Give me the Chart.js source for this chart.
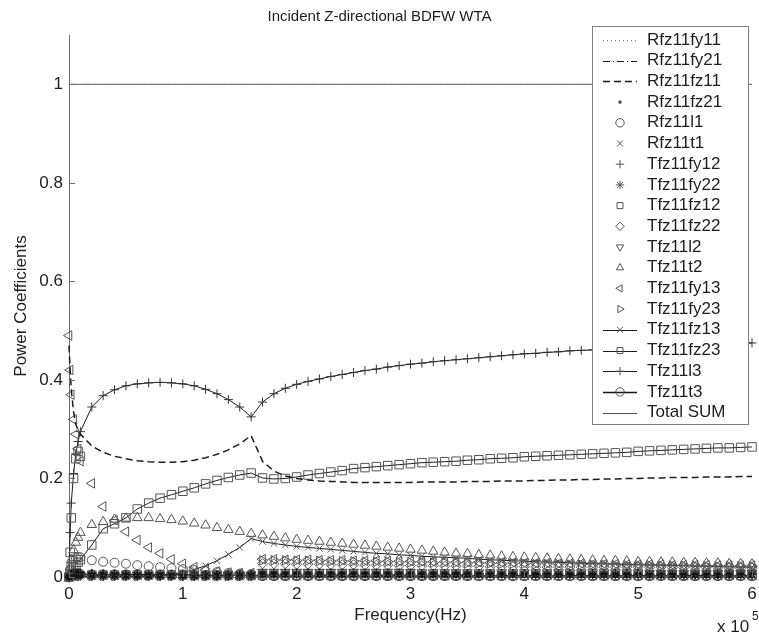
<!DOCTYPE html>
<html><head><meta charset="utf-8">
<script src="https://cdn.jsdelivr.net/npm/chart.js@4.4.1/dist/chart.umd.min.js"></script>
<style>html,body{margin:0;padding:0;background:#fff;overflow:hidden}</style>
</head><body>
<canvas id="c" width="759" height="637"></canvas>
<script>
const TITLE = 'Incident Z-directional BDFW WTA';
const X_LABEL = 'Frequency(Hz)';
const Y_LABEL = 'Power Coefficients';
const X_TICKS = [0,100000,200000,300000,400000,500000,600000];
const Y_TICKS = [0,0.2,0.4,0.6,0.8,1];

const FREQ = [0,1000,2000,4000,6000,8000,10000,
20000,30000,40000,50000,60000,70000,80000,90000,100000,
110000,120000,130000,140000,150000,160000,
170000,180000,190000,200000,
210000,220000,230000,240000,250000,260000,270000,280000,290000,300000,
310000,320000,330000,340000,350000,360000,370000,380000,390000,400000,
410000,420000,430000,440000,450000,460000,470000,480000,490000,500000,
510000,520000,530000,540000,550000,560000,570000,580000,590000,600000];

const RFZ11FY11 = [0.000,0.004,0.006,0.007,0.007,0.006,0.006,
0.005,0.004,0.004,0.003,0.003,0.003,0.003,0.002,0.002,
0.002,0.002,0.002,0.002,0.002,0.002,
0.003,0.003,0.003,0.003,
0.003,0.003,0.003,0.003,0.003,0.003,0.003,0.003,0.003,0.003,
0.003,0.003,0.003,0.003,0.003,0.002,0.002,0.002,0.002,0.002,
0.002,0.002,0.002,0.002,0.002,0.002,0.002,0.002,0.002,0.002,
0.002,0.002,0.002,0.002,0.002,0.002,0.002,0.002,0.002,0.002];

const RFZ11FY21 = [0.000,0.003,0.005,0.006,0.006,0.005,0.005,
0.004,0.003,0.003,0.003,0.002,0.002,0.002,0.002,0.002,
0.002,0.002,0.002,0.002,0.001,0.001,
0.004,0.004,0.004,0.004,
0.004,0.004,0.004,0.004,0.004,0.004,0.004,0.004,0.004,0.004,
0.004,0.004,0.004,0.004,0.004,0.003,0.003,0.003,0.003,0.003,
0.003,0.003,0.003,0.003,0.003,0.003,0.003,0.003,0.003,0.003,
0.003,0.003,0.003,0.003,0.003,0.003,0.003,0.003,0.003,0.003];

const RFZ11FZ11 = [0.470,0.420,0.380,0.335,0.310,0.298,0.290,
0.266,0.253,0.245,0.240,0.236,0.234,0.233,0.233,0.234,
0.237,0.242,0.249,0.258,0.270,0.287,
0.235,0.215,0.205,0.200,
0.197,0.195,0.194,0.193,0.192,0.192,0.192,0.192,0.192,0.192,
0.193,0.193,0.193,0.193,0.194,0.194,0.194,0.195,0.195,0.195,
0.196,0.196,0.197,0.197,0.198,0.198,0.199,0.199,0.200,0.200,
0.201,0.201,0.202,0.202,0.202,0.203,0.203,0.203,0.204,0.204];

const RFZ11FZ21 = [0.000,0.001,0.001,0.002,0.002,0.002,0.002,
0.002,0.002,0.002,0.001,0.001,0.001,0.001,0.001,0.001,
0.001,0.001,0.001,0.001,0.001,0.001,
0.002,0.002,0.002,0.002,
0.002,0.002,0.002,0.002,0.002,0.002,0.002,0.002,0.002,0.002,
0.002,0.002,0.002,0.002,0.002,0.002,0.002,0.002,0.002,0.002,
0.001,0.001,0.001,0.001,0.001,0.001,0.001,0.001,0.001,0.001,
0.001,0.001,0.001,0.001,0.001,0.001,0.001,0.001,0.001,0.001];

const RFZ11L1 = [0.000,0.015,0.025,0.035,0.039,0.040,0.040,
0.034,0.031,0.029,0.027,0.024,0.022,0.020,0.018,0.016,
0.014,0.012,0.010,0.008,0.007,0.006,
0.005,0.005,0.004,0.004,
0.004,0.004,0.004,0.004,0.004,0.004,0.004,0.004,0.004,0.004,
0.004,0.004,0.004,0.004,0.004,0.003,0.003,0.003,0.003,0.003,
0.003,0.003,0.003,0.003,0.003,0.003,0.003,0.003,0.003,0.003,
0.003,0.003,0.003,0.003,0.003,0.003,0.003,0.003,0.003,0.003];

const RFZ11T1 = [0.000,0.002,0.003,0.004,0.005,0.005,0.005,
0.004,0.004,0.004,0.003,0.003,0.003,0.003,0.003,0.003,
0.003,0.003,0.003,0.003,0.003,0.003,
0.006,0.006,0.006,0.006,
0.006,0.006,0.006,0.006,0.006,0.006,0.006,0.006,0.006,0.006,
0.005,0.005,0.005,0.005,0.005,0.005,0.005,0.005,0.005,0.005,
0.005,0.005,0.005,0.005,0.005,0.005,0.005,0.005,0.005,0.005,
0.004,0.004,0.004,0.004,0.004,0.004,0.004,0.004,0.004,0.004];

const TFZ11FY12 = [0.000,0.004,0.006,0.008,0.008,0.008,0.008,
0.007,0.006,0.006,0.005,0.005,0.005,0.004,0.004,0.004,
0.004,0.004,0.004,0.004,0.004,0.004,
0.008,0.008,0.008,0.008,
0.008,0.008,0.008,0.008,0.008,0.008,0.008,0.008,0.008,0.008,
0.007,0.007,0.007,0.007,0.007,0.007,0.007,0.007,0.007,0.007,
0.007,0.007,0.007,0.007,0.007,0.007,0.007,0.007,0.007,0.007,
0.006,0.006,0.006,0.006,0.006,0.006,0.006,0.006,0.006,0.006];

const TFZ11FY22 = [0.000,0.003,0.004,0.005,0.005,0.005,0.005,
0.004,0.004,0.004,0.004,0.004,0.004,0.004,0.004,0.004,
0.003,0.003,0.003,0.003,0.003,0.003,
0.006,0.006,0.006,0.006,
0.006,0.006,0.006,0.006,0.006,0.006,0.006,0.006,0.006,0.006,
0.006,0.006,0.006,0.006,0.006,0.006,0.006,0.006,0.006,0.006,
0.005,0.005,0.005,0.005,0.005,0.005,0.005,0.005,0.005,0.005,
0.005,0.005,0.005,0.005,0.005,0.005,0.005,0.005,0.005,0.005];

const TFZ11FZ12 = [0.000,0.050,0.120,0.200,0.240,0.255,0.245,
0.004,0.004,0.004,0.004,0.004,0.004,0.004,0.004,0.004,
0.003,0.003,0.003,0.003,0.003,0.003,
0.003,0.003,0.003,0.003,
0.003,0.003,0.003,0.003,0.003,0.003,0.003,0.003,0.003,0.003,
0.003,0.003,0.003,0.003,0.003,0.003,0.003,0.003,0.003,0.003,
0.003,0.003,0.003,0.003,0.003,0.003,0.003,0.003,0.003,0.003,
0.003,0.003,0.003,0.003,0.003,0.003,0.003,0.003,0.003,0.003];

const TFZ11FZ22 = [0.000,0.002,0.003,0.004,0.004,0.004,0.004,
0.004,0.004,0.004,0.004,0.004,0.004,0.004,0.004,0.004,
0.004,0.004,0.004,0.004,0.004,0.004,
0.027,0.027,0.027,0.026,
0.026,0.026,0.025,0.025,0.025,0.024,0.024,0.024,0.023,0.023,
0.023,0.023,0.022,0.022,0.022,0.022,0.021,0.021,0.021,0.021,
0.020,0.020,0.020,0.020,0.020,0.020,0.020,0.020,0.020,0.020,
0.020,0.020,0.019,0.019,0.019,0.019,0.019,0.018,0.018,0.018];

const TFZ11L2 = [0.000,0.002,0.003,0.004,0.004,0.004,0.004,
0.003,0.003,0.003,0.003,0.003,0.003,0.003,0.003,0.003,
0.003,0.003,0.003,0.003,0.003,0.003,
0.010,0.010,0.010,0.010,
0.010,0.010,0.010,0.010,0.010,0.010,0.010,0.010,0.010,0.010,
0.009,0.009,0.009,0.009,0.009,0.009,0.009,0.009,0.009,0.009,
0.009,0.009,0.009,0.009,0.009,0.009,0.009,0.009,0.009,0.009,
0.008,0.008,0.008,0.008,0.008,0.008,0.008,0.008,0.008,0.008];

const TFZ11T2 = [0.000,0.020,0.035,0.055,0.070,0.080,0.090,
0.106,0.112,0.117,0.119,0.120,0.120,0.118,0.116,0.113,
0.109,0.105,0.100,0.096,0.092,0.088,
0.085,0.082,0.079,0.076,
0.074,0.072,0.070,0.068,0.066,0.064,0.062,0.060,0.058,0.056,
0.054,0.052,0.050,0.048,0.047,0.045,0.044,0.042,0.041,0.040,
0.039,0.038,0.037,0.036,0.035,0.034,0.033,0.033,0.032,0.031,
0.031,0.030,0.030,0.029,0.029,0.028,0.028,0.027,0.027,0.026];

const TFZ11FY13 = [0.490,0.420,0.370,0.320,0.290,0.260,0.235,
0.190,0.143,0.115,0.092,0.075,0.060,0.048,0.036,0.027,
0.020,0.015,0.011,0.009,0.008,0.008,
0.036,0.036,0.035,0.035,
0.035,0.034,0.034,0.034,0.033,0.033,0.033,0.032,0.032,0.032,
0.031,0.031,0.031,0.030,0.030,0.030,0.029,0.029,0.029,0.028,
0.028,0.028,0.027,0.027,0.027,0.026,0.026,0.026,0.025,0.025,
0.025,0.025,0.024,0.024,0.024,0.024,0.023,0.023,0.023,0.023];

const TFZ11FY23 = [0.000,0.001,0.001,0.002,0.002,0.002,0.002,
0.002,0.002,0.002,0.002,0.002,0.002,0.002,0.002,0.002,
0.002,0.002,0.002,0.002,0.002,0.002,
0.034,0.034,0.034,0.033,
0.033,0.033,0.032,0.032,0.032,0.031,0.031,0.031,0.030,0.030,
0.030,0.029,0.029,0.029,0.028,0.028,0.028,0.027,0.027,0.027,
0.026,0.026,0.026,0.025,0.025,0.025,0.025,0.024,0.024,0.024,
0.024,0.023,0.023,0.023,0.023,0.022,0.022,0.022,0.022,0.022];

const TFZ11FZ13 = [0.000,0.001,0.001,0.001,0.001,0.001,0.001,
0.001,0.001,0.001,0.001,0.001,0.002,0.003,0.005,0.009,
0.015,0.023,0.033,0.046,0.060,0.078,
0.072,0.068,0.065,0.062,
0.060,0.058,0.056,0.054,0.052,0.050,0.048,0.047,0.045,0.044,
0.042,0.041,0.040,0.039,0.038,0.036,0.035,0.034,0.033,0.032,
0.031,0.030,0.030,0.029,0.028,0.027,0.027,0.026,0.025,0.025,
0.024,0.024,0.023,0.023,0.022,0.022,0.021,0.021,0.020,0.020];

const TFZ11FZ23 = [0.000,0.006,0.012,0.020,0.025,0.030,0.035,
0.065,0.098,0.108,0.120,0.138,0.150,0.160,0.167,0.174,
0.181,0.189,0.196,0.202,0.207,0.211,
0.201,0.199,0.200,0.203,
0.207,0.210,0.213,0.216,0.220,0.222,0.224,0.226,0.228,0.230,
0.232,0.233,0.234,0.235,0.237,0.238,0.240,0.241,0.242,0.244,
0.245,0.246,0.247,0.248,0.249,0.250,0.251,0.252,0.253,0.255,
0.256,0.257,0.258,0.259,0.260,0.261,0.262,0.262,0.263,0.264];

const TFZ11L3 = [0.000,0.090,0.150,0.210,0.250,0.275,0.295,
0.345,0.368,0.380,0.388,0.392,0.394,0.395,0.394,0.392,
0.388,0.381,0.372,0.360,0.345,0.325,
0.355,0.372,0.383,0.391,
0.397,0.402,0.407,0.411,0.415,0.419,0.422,0.426,0.429,0.432,
0.434,0.437,0.439,0.441,0.443,0.445,0.447,0.449,0.451,0.453,
0.454,0.456,0.457,0.459,0.460,0.461,0.462,0.463,0.464,0.465,
0.466,0.467,0.468,0.469,0.470,0.471,0.472,0.473,0.474,0.475];

const TFZ11T3 = [0.000,0.003,0.005,0.006,0.006,0.006,0.006,
0.005,0.005,0.005,0.005,0.005,0.005,0.005,0.005,0.005,
0.004,0.004,0.004,0.004,0.004,0.004,
0.002,0.002,0.002,0.002,
0.002,0.002,0.002,0.002,0.002,0.002,0.002,0.002,0.002,0.002,
0.002,0.002,0.002,0.002,0.002,0.002,0.002,0.002,0.002,0.002,
0.002,0.002,0.002,0.002,0.002,0.002,0.002,0.002,0.002,0.002,
0.002,0.002,0.002,0.002,0.002,0.002,0.002,0.002,0.002,0.002];

const TOTAL_SUM = [1,1,1,1,1,1,1,
1,1,1,1,1,1,1,1,1,
1,1,1,1,1,1,
1,1,1,1,
1,1,1,1,1,1,1,1,1,1,
1,1,1,1,1,1,1,1,1,1,
1,1,1,1,1,1,1,1,1,1,
1,1,1,1,1,1,1,1,1,1];

const FONT = "'Liberation Sans', Arial, Helvetica, sans-serif";
const TXT = '#1e1e1e';
const AXIS = '#6e6e6e';
const LINE = '#1c1c1c';
const MARK = '#555555';
const DARK = '#141414';
const NONE = 'rgba(0,0,0,0)';

function series(label, values, st) {
  if (values.length !== FREQ.length) throw new Error(label + ' length ' + values.length);
  return Object.assign({
    label: label,
    data: FREQ.map((f, i) => ({x: f, y: values[i]})),
    borderColor: LINE, backgroundColor: NONE,
    pointBorderColor: MARK, pointBackgroundColor: NONE,
    borderWidth: 1, pointBorderWidth: 1, pointRadius: 0,
    pointStyle: 'circle', pointRotation: 0,
    showLine: false, clip: false, tension: 0
  }, st);
}

const datasets = [
  series('Rfz11fy11', RFZ11FY11, {showLine: true, borderDash: [1, 3], borderColor: '#777'}),
  series('Rfz11fy21', RFZ11FY21, {showLine: true, borderDash: [7, 3, 1, 3]}),
  series('Rfz11fz11', RFZ11FZ11, {showLine: true, borderDash: [7, 4], borderWidth: 1.5}),
  series('Rfz11fz21', RFZ11FZ21, {pointRadius: 1.3, pointBackgroundColor: DARK, pointBorderColor: DARK}),
  series('Rfz11l1', RFZ11L1, {pointRadius: 4.5}),
  series('Rfz11t1', RFZ11T1, {pointStyle: 'crossRot', pointRadius: 4.5, pointBorderColor: DARK, pointBorderWidth: 1.3}),
  series('Tfz11fy12', TFZ11FY12, {pointStyle: 'cross', pointRadius: 4.5, pointBorderColor: DARK, pointBorderWidth: 1.3}),
  series('Tfz11fy22', TFZ11FY22, {pointStyle: 'star', pointRadius: 4.5, pointBorderColor: DARK, pointBorderWidth: 1.3}),
  series('Tfz11fz12', TFZ11FZ12, {pointStyle: 'rect', pointRadius: 6}),
  series('Tfz11fz22', TFZ11FZ22, {pointStyle: 'rectRot', pointRadius: 5}),
  series('Tfz11l2', TFZ11L2, {pointStyle: 'triangle', pointRotation: 180, pointRadius: 5.5, pointBorderColor: '#333'}),
  series('Tfz11t2', TFZ11T2, {pointStyle: 'triangle', pointRadius: 5.5}),
  series('Tfz11fy13', TFZ11FY13, {pointStyle: 'triangle', pointRotation: -90, pointRadius: 5.5}),
  series('Tfz11fy23', TFZ11FY23, {pointStyle: 'triangle', pointRotation: 90, pointRadius: 5.5}),
  series('Tfz11fz13', TFZ11FZ13, {showLine: true, pointStyle: 'crossRot', pointRadius: 4.5}),
  series('Tfz11fz23', TFZ11FZ23, {showLine: true, pointStyle: 'rect', pointRadius: 6}),
  series('Tfz11l3', TFZ11L3, {showLine: true, pointStyle: 'cross', pointRadius: 4.5, pointBorderColor: '#333'}),
  series('Tfz11t3', TFZ11T3, {showLine: true, pointStyle: 'circle', pointRadius: 4.5, pointBorderColor: DARK, borderColor: DARK, borderWidth: 1.3}),
  series('Total SUM', TOTAL_SUM, {showLine: true, borderColor: '#555'})
];

const decorPlugin = {
  id: 'decor',
  afterDraw(chart) {
    const ctx = chart.ctx;
    const xs = chart.scales.x, ys = chart.scales.y;
    const area = chart.chartArea;
    ctx.save();
    ctx.strokeStyle = AXIS; ctx.lineWidth = 1;
    ctx.beginPath();
    Y_TICKS.forEach(v => { const y = Math.round(ys.getPixelForValue(v)) + 0.5; ctx.moveTo(area.left, y); ctx.lineTo(area.left + 6, y); });
    X_TICKS.forEach(v => { const x = Math.round(xs.getPixelForValue(v)) + 0.5; ctx.moveTo(x, area.bottom); ctx.lineTo(x, area.bottom - 6); });
    ctx.stroke();
    ctx.fillStyle = TXT;
    ctx.textBaseline = 'alphabetic'; ctx.textAlign = 'left';
    ctx.font = '17px ' + FONT;
    ctx.fillText('x 10', 717, 632);
    ctx.font = '12px ' + FONT;
    ctx.fillText('5', 752, 620);
    const L = {x: 592, y: 26, w: 156, h: 398};
    ctx.fillStyle = '#fff';
    ctx.fillRect(L.x, L.y, L.w, L.h);
    ctx.strokeStyle = '#808080'; ctx.lineWidth = 1;
    ctx.strokeRect(L.x + 0.5, L.y + 0.5, L.w, L.h);
    ctx.font = '17px ' + FONT;
    ctx.textBaseline = 'middle';
    chart.data.datasets.forEach((ds, i) => {
      const cy = 40 + i * 20.7;
      if (ds.showLine) {
        ctx.save();
        ctx.strokeStyle = ds.borderColor; ctx.lineWidth = Math.min(ds.borderWidth, 1.3);
        ctx.setLineDash(ds.borderDash || []);
        ctx.beginPath(); ctx.moveTo(603, Math.round(cy) + 0.5); ctx.lineTo(637, Math.round(cy) + 0.5); ctx.stroke();
        ctx.restore();
      }
      if (ds.pointRadius > 0) {
        ctx.save();
        ctx.strokeStyle = '#555'; ctx.fillStyle = ds.pointBackgroundColor === NONE ? NONE : '#555';
        ctx.lineWidth = 1;
        Chart.helpers.drawPoint(ctx, {pointStyle: ds.pointStyle, radius: Math.min(ds.pointRadius, 4.2), rotation: ds.pointRotation, borderWidth: 1}, 620, cy);
        ctx.restore();
      }
      ctx.fillStyle = TXT;
      ctx.fillText(ds.label, 647, cy);
    });
    ctx.restore();
  }
};

new Chart(document.getElementById('c'), {
  type: 'line',
  data: {datasets: datasets},
  plugins: [decorPlugin],
  options: {
    responsive: false, animation: false, devicePixelRatio: 1,
    layout: {padding: 0},
    plugins: {
      legend: {display: false}, tooltip: {enabled: false},
      title: {display: true, text: TITLE, color: TXT, font: {family: FONT, size: 15, weight: 'normal'}, padding: {top: 8, bottom: 9}}
    },
    scales: {
      x: {
        type: 'linear', min: 0, max: 600000,
        afterBuildTicks: s => { s.ticks = X_TICKS.map(v => ({value: v})); },
        afterFit: s => { s.height = 60; s.paddingLeft = 0; s.paddingRight = 0; },
        ticks: {color: TXT, font: {family: FONT, size: 17}, padding: 7, maxRotation: 0, autoSkip: false,
          callback: v => String(v / 100000)},
        grid: {display: true, drawOnChartArea: false, drawTicks: false},
        border: {display: true, color: AXIS, width: 1},
        title: {display: true, text: X_LABEL, color: TXT, font: {family: FONT, size: 17}, padding: {top: 0, bottom: 11}}
      },
      y: {
        type: 'linear', min: 0, max: 1.1,
        afterBuildTicks: s => { s.ticks = Y_TICKS.map(v => ({value: v})); },
        afterFit: s => { s.width = 69; s.paddingTop = 0; s.paddingBottom = 0; },
        ticks: {color: TXT, font: {family: FONT, size: 17}, padding: 6,
          callback: v => (v === 0 ? '0' : v === 1 ? '1' : v.toFixed(1))},
        grid: {display: true, drawOnChartArea: false, drawTicks: false},
        border: {display: true, color: AXIS, width: 1},
        title: {display: true, text: Y_LABEL, color: TXT, font: {family: FONT, size: 17}, padding: {top: 11, bottom: 0}}
      }
    }
  }
});
</script>
</body></html>
